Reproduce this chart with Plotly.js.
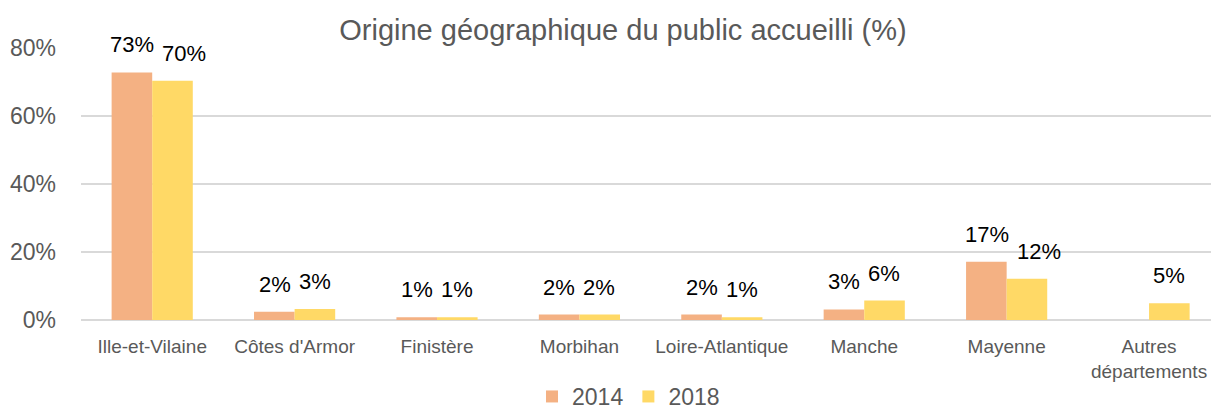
<!DOCTYPE html>
<html>
<head>
<meta charset="utf-8">
<script src="https://cdn.plot.ly/plotly-3.0.1.min.js"></script>
<style>html,body{margin:0;padding:0;background:#fff;}#chart{width:1211px;height:418px;}</style>
</head>
<body>
<div id="chart"></div>
<script>
const categories = ["Ille-et-Vilaine", "Côtes d'Armor", "Finistère", "Morbihan", "Loire-Atlantique", "Manche", "Mayenne", "Autres<br>départements"];
const values2014 = [72.8, 2.4, 0.8, 1.6, 1.6, 3.1, 17.1, null];
const values2018 = [70.4, 3.2, 0.8, 1.6, 0.8, 5.7, 12.1, 4.9];
const seriesNames = ["2014", "2018"];
const colors = ["#F4B183", "#FFD966"];
const yTicks = [0, 20, 40, 60, 80];

const FONT = "Liberation Sans, Arial, sans-serif";
const GRAY = "#595959";
const LABEL_SIZE = 22;

const traces = [values2014, values2018].map((vals, i) => ({
  type: "bar",
  name: seriesNames[i],
  x: categories,
  y: vals,
  marker: {color: colors[i]},
  hoverinfo: "skip"
}));

// label width estimate (digits 0.556em, % 0.889em) for simple overlap avoidance
const labelText = v => Math.round(v) + "%";
const labelWidth = v => (String(Math.round(v)).length * 0.556 + 0.889) * LABEL_SIZE;

const annotations = [];
categories.forEach((c, j) => {
  const a = values2014[j], b = values2018[j];
  let extra = 0;
  if (a !== null && b !== null) {
    const gap = 40 - labelWidth(a) / 2 - labelWidth(b) / 2;
    if (gap < 8) extra = 8 - gap;
  }
  [[a, -20], [b, 20 + extra]].forEach(([v, xs]) => {
    if (v === null) return;
    annotations.push({
      x: c, y: v, xref: "x", yref: "y",
      text: labelText(v),
      showarrow: false,
      xshift: xs,
      yshift: 13,
      yanchor: "bottom",
      font: {family: FONT, size: LABEL_SIZE, color: "#000"}
    });
  });
});

const layout = {
  width: 1211, height: 418,
  margin: {l: 81, r: 0, t: 48, b: 98},
  paper_bgcolor: "#fff", plot_bgcolor: "#fff",
  barmode: "group", bargap: 0.43, bargroupgap: 0,
  title: {
    text: "Origine géographique du public accueilli (%)",
    x: 623/1211, xanchor: "center", xref: "container",
    y: 1 - 30/418, yanchor: "middle", yref: "container",
    font: {family: FONT, size: 29, color: GRAY}
  },
  xaxis: {
    type: "category",
    range: [-0.5, 7.435],
    showgrid: false, zeroline: false, showline: false,
    ticks: "", ticklabelstandoff: 13,
    tickfont: {family: FONT, size: 19, color: GRAY},
    fixedrange: true
  },
  yaxis: {
    range: [0, 80],
    tickvals: yTicks,
    ticktext: yTicks.map(t => t + "%"),
    showgrid: true, gridcolor: "#D9D9D9", gridwidth: 1.5,
    zeroline: true, zerolinecolor: "#D9D9D9", zerolinewidth: 1.5,
    showline: false, ticks: "",
    ticklabelstandoff: 24,
    tickfont: {family: FONT, size: 23, color: GRAY},
    fixedrange: true
  },
  showlegend: true,
  legend: {
    orientation: "h",
    x: 0.519, xanchor: "center", xref: "container",
    y: 0, yanchor: "bottom", yref: "container",
    font: {family: FONT, size: 23, color: GRAY},
    itemwidth: 30
  },
  annotations: annotations
};

Plotly.newPlot("chart", traces, layout, {displayModeBar: false, staticPlot: true});
</script>
</body>
</html>
